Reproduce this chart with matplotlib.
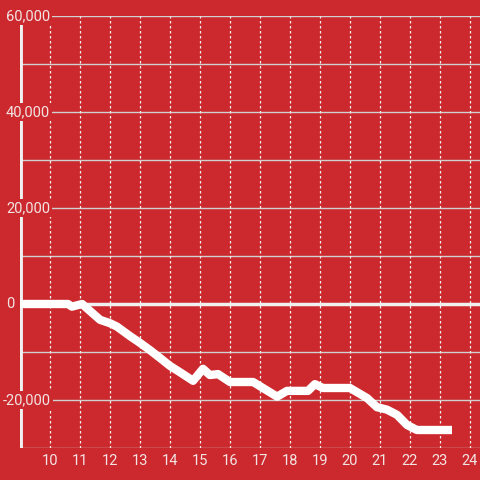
import matplotlib
matplotlib.use("Agg")
import matplotlib.pyplot as plt
from matplotlib import transforms

x_hours = [9.0, 10.6, 10.73, 11.07, 11.67, 12.0, 12.23, 12.67, 13.0, 13.33, 13.67, 14.0, 14.33,
           14.77, 15.1, 15.33, 15.6, 16.0, 16.77, 17.57, 17.9, 18.6, 18.83, 19.1, 20.0, 20.57,
           20.9, 21.23, 21.57, 21.9, 22.23, 23.4]
values = [0, 0, -550, 0, -3300, -4000, -4700, -6700, -8100, -9600, -11250, -12900, -14200,
          -16000, -13500, -14800, -14600, -16250, -16250, -19300, -18100, -18100, -16700, -17500,
          -17500, -19600, -21500, -22000, -23100, -25200, -26250, -26250]
x_ticks = list(range(10, 25))
y_labels = [60000, 40000, 20000, 0, -20000]
y_minor = [50000, 30000, 10000, -10000, -30000]

bg = '#cc292e'
txt = '#f3e4e4'

fig = plt.figure(figsize=(4.8, 4.8), dpi=100)
fig.patch.set_facecolor(bg)
ax = fig.add_axes([20/480, 32/480, 460/480, 432/480])
ax.set_facecolor(bg)
ax.set_xlim(9, 9 + 460/30)
ax.set_ylim(-30000, 60000)
for s in ax.spines.values():
    s.set_visible(False)
ax.set_xticks([])
ax.set_yticks([])

for v in y_labels + y_minor:
    if v == 0:
        continue
    ax.axhline(v, color='#d0d0d0', lw=1.0, zorder=1)
for xt in x_ticks:
    ax.axvline(xt, color='#f0f0f0', lw=0.9, ls=(0, (2, 2)), zorder=1)

ax.axhline(0, color='#f0f0f0', lw=2.5, zorder=2)
ax.axvline(9, color='#f0f0f0', lw=3.5, zorder=2)

ax.plot(x_hours, values, color='white', lw=6, solid_joinstyle='round',
        solid_capstyle='butt', zorder=3)

trans = transforms.blended_transform_factory(fig.transFigure, ax.transData)
for v in y_labels:
    label = f"{v:,}"
    xpos = 3/480 if v < 0 else 6/480
    ax.text(xpos, v, label, transform=trans, ha='left', va='center', color=txt,
            fontsize=10.5, family='Roboto', zorder=5,
            bbox=dict(boxstyle='square,pad=0.12', fc=bg, ec='none'))

transx = transforms.blended_transform_factory(ax.transData, fig.transFigure)
for xt in x_ticks:
    ax.text(xt, 1 - 461/480, str(xt), transform=transx, ha='center', va='center',
            color=txt, fontsize=10.5, family='Roboto')

fig.savefig('out.png', dpi=100, facecolor=bg)
